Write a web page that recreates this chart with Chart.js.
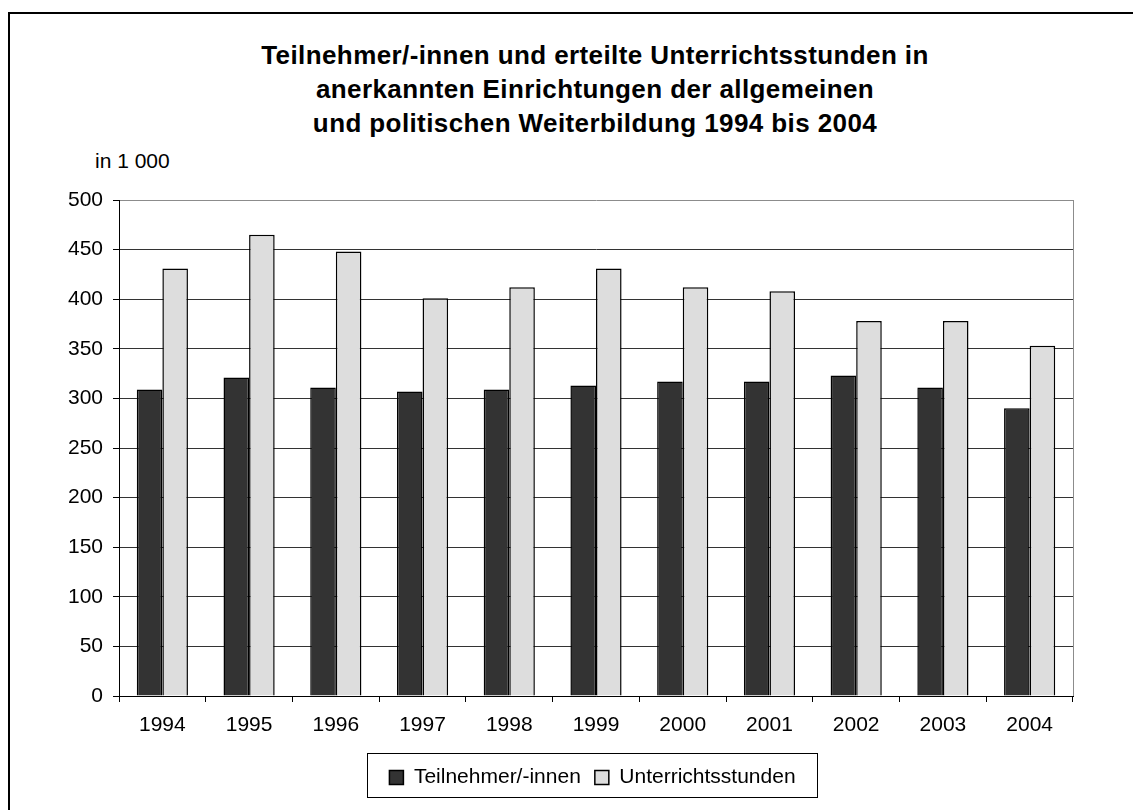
<!DOCTYPE html>
<html>
<head>
<meta charset="utf-8">
<script src="https://cdn.jsdelivr.net/npm/chart.js@4"></script>
<style>
  body { margin: 0; width: 1133px; height: 810px; overflow: hidden; background: #fff; font-family: "Liberation Sans", Arial, sans-serif; }
  .rahmen { position: absolute; left: 8px; top: 12px; width: 1300px; height: 1000px; border: 2px solid #000; }
  .titel { position: absolute; left: 145px; width: 900px; top: 38px; text-align: center; font-weight: bold; font-size: 26px; letter-spacing: 0.4px; line-height: 34px; color: #000; }
  .einheit { position: absolute; left: 95px; top: 149px; font-size: 21px; line-height: 24px; color: #000; }
  .chartBox { position: absolute; left: 0; top: 0; width: 1133px; height: 810px; }
</style>
</head>
<body>
<div class="rahmen"></div>
<div class="titel">Teilnehmer/-innen und erteilte Unterrichtsstunden in<br>anerkannten Einrichtungen der allgemeinen<br>und politischen Weiterbildung 1994 bis 2004</div>
<div class="einheit">in 1 000</div>
<div class="chartBox"><canvas id="grafica"></canvas></div>
<script>
  // Werte in 1 000
  let jahre = ['1994', '1995', '1996', '1997', '1998', '1999', '2000', '2001', '2002', '2003', '2004'];
  let teilnehmer = [309, 321, 311, 307, 309, 313, 317, 317, 323, 311, 290];
  let stunden = [431, 465, 448, 401, 412, 431, 412, 408, 378, 378, 353];
  let yTicks = [0, 50, 100, 150, 200, 250, 300, 350, 400, 450, 500];

  let schrift = { family: '"Liberation Sans", Arial', size: 21 };

  // Rahmen um Legende und rechter Rand der Zeichenfläche
  let rahmenPlugin = {
    id: 'rahmenPlugin',
    afterLayout(chart) {
      // Legende etwas nach rechts, mittig unter der Zeichenfläche
      chart.legend.left += 31;
      chart.legend.right += 31;
    },
    afterDraw(chart) {
      let ctx = chart.ctx;
      let area = chart.chartArea;
      ctx.save();
      ctx.strokeStyle = '#8c8c8c';
      ctx.lineWidth = 1;
      ctx.beginPath();
      ctx.moveTo(area.right + 0.5, area.top);
      ctx.lineTo(area.right + 0.5, area.bottom);
      ctx.stroke();

      let legend = chart.legend;
      let pad = legend.options.labels.padding;
      let breite = legend.lineWidths[0] - pad + 44;
      let mitte = (legend.left + legend.right) / 2;
      ctx.strokeStyle = '#000';
      ctx.strokeRect(Math.round(mitte - breite / 2) + 0.5, legend.top + 0.5, Math.round(breite), legend.height - 1);
      ctx.restore();
    }
  };

  let ctx = document.getElementById('grafica').getContext('2d');
  new Chart(ctx, {
    type: 'bar',
    data: {
      labels: jahre,
      datasets: [{
        label: 'Teilnehmer/-innen',
        data: teilnehmer,
        backgroundColor: '#333333',
        borderColor: '#000',
        borderWidth: 1.5,
        categoryPercentage: 0.59,
        barPercentage: 1
      }, {
        label: 'Unterrichtsstunden',
        data: stunden,
        backgroundColor: '#dddddd',
        borderColor: '#000',
        borderWidth: 1.5,
        categoryPercentage: 0.59,
        barPercentage: 1
      }]
    },
    options: {
      responsive: true,
      maintainAspectRatio: false,
      animation: false,
      layout: {
        padding: { left: 50, right: 60, top: 200, bottom: 12 }
      },
      plugins: {
        title: { display: false },
        tooltip: { enabled: false },
        legend: {
          position: 'bottom',
          labels: {
            color: '#000',
            font: schrift,
            boxWidth: 14,
            boxHeight: 14,
            padding: 14
          }
        }
      },
      scales: {
        x: {
          afterFit(scale) { scale.height = 57; },
          grid: {
            offset: true,
            drawOnChartArea: false,
            drawTicks: true,
            tickLength: 6,
            tickColor: '#000'
          },
          border: { display: true, color: '#000', width: 1 },
          ticks: {
            color: '#000',
            padding: 11,
            font: schrift
          }
        },
        y: {
          min: 0,
          max: 500,
          afterFit(scale) { scale.width = 69; },
          afterBuildTicks(scale) { scale.ticks = yTicks.map(v => ({ value: v })); },
          grid: {
            color: c => (c.tick && c.tick.value === 500 ? '#8c8c8c' : '#333333'),
            lineWidth: 1,
            tickLength: 6,
            tickColor: '#000'
          },
          border: { display: true, color: '#000', width: 1 },
          ticks: {
            color: '#000',
            padding: 10,
            font: schrift
          }
        }
      }
    },
    plugins: [rahmenPlugin]
  });
</script>
</body>
</html>
